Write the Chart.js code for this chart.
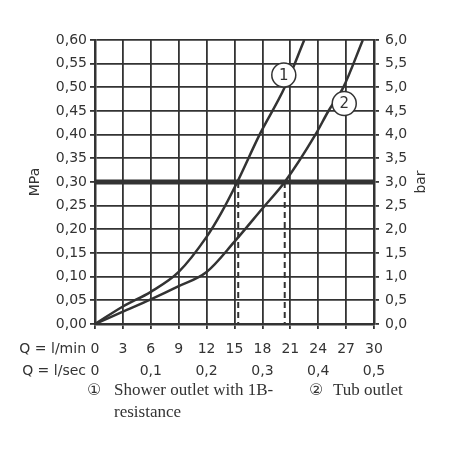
<!DOCTYPE html>
<html>
<head>
<meta charset="utf-8">
<script src="https://cdn.jsdelivr.net/npm/chart.js@4/dist/chart.umd.min.js"></script>
<style>
html,body{margin:0;padding:0;background:#fff;}
#wrap{width:450px;height:450px;position:relative;}
</style>
</head>
<body>
<div id="wrap"><canvas id="c" width="450" height="450"></canvas></div>
<script>
// ---- data ----
const curve1Q = [0, 3, 6, 9, 12, 13.5, 15.3, 17.7, 20.4, 22.5];          // l/min
const curve1P = [0, 0.037, 0.068, 0.11, 0.184, 0.232, 0.30, 0.40, 0.50, 0.60]; // MPa
const curve2Q = [0, 3, 6, 9, 12, 15, 18, 20.4, 23.7, 25.1, 26.7, 28.8];
const curve2P = [0, 0.026, 0.052, 0.08, 0.11, 0.174, 0.244, 0.30, 0.40, 0.45, 0.50, 0.60];
const refPressure = 0.30;
const refQ = [15.4, 20.4];                 // where curves cross 0.30 MPa
const markerQ = [20.3, 26.8];
const markerP = [0.526, 0.466];
const markerText = ['1', '2'];
const lminTicks = [0, 3, 6, 9, 12, 15, 18, 21, 24, 27, 30];
const lsecTicks = [0, 0.1, 0.2, 0.3, 0.4, 0.5];
const lsecLabels = ['0', '0,1', '0,2', '0,3', '0,4', '0,5'];
const mpaTicks = [0, 0.05, 0.1, 0.15, 0.2, 0.25, 0.3, 0.35, 0.4, 0.45, 0.5, 0.55, 0.6];
const mpaLabels = ['0,00','0,05','0,10','0,15','0,20','0,25','0,30','0,35','0,40','0,45','0,50','0,55','0,60'];
const barTicks = [0, 0.5, 1, 1.5, 2, 2.5, 3, 3.5, 4, 4.5, 5, 5.5, 6];
const barLabels = ['0,0','0,5','1,0','1,5','2,0','2,5','3,0','3,5','4,0','4,5','5,0','5,5','6,0'];
const rowPrefixes = ['Q = l/min', 'Q = l/sec'];
const legendItems = ['Shower outlet with 1B-', 'resistance', 'Tub outlet'];
const yTitles = ['MPa', 'bar'];

const INK = '#333333';
const SANS = "'DejaVu Sans', sans-serif";
const zip = (xs, ys) => xs.map((x, i) => ({x, y: ys[i]}));

const overlay = {
  id: 'overlay',
  afterDatasetsDraw(chart) {
    const ctx = chart.ctx;
    const meta = chart.getDatasetMeta(0);
    ctx.save();
    ctx.fillStyle = INK;
    ctx.font = "15px " + SANS;
    ctx.textAlign = 'center';
    ctx.textBaseline = 'middle';
    meta.data.forEach((pt, i) => ctx.fillText(markerText[i], pt.x, pt.y + 1));
    ctx.restore();
  },
  afterDraw(chart) {
    const ctx = chart.ctx;
    ctx.save();
    ctx.fillStyle = INK;
    ctx.font = "14px " + SANS;
    ctx.textAlign = 'center';
    ctx.textBaseline = 'middle';
    const midY = (chart.chartArea.top + chart.chartArea.bottom) / 2;
    [[35, yTitles[0]], [421, yTitles[1]]].forEach(([x, t]) => {
      ctx.save(); ctx.translate(x, midY); ctx.rotate(-Math.PI / 2);
      ctx.fillText(t, 0, 0); ctx.restore();
    });
    ctx.textAlign = 'right';
    ctx.fillText(rowPrefixes[0], 86, 349);
    ctx.fillText(rowPrefixes[1], 86, 371);
    ctx.textAlign = 'left';
    ctx.textBaseline = 'alphabetic';
    ctx.font = "16px " + SANS;
    ctx.fillText('\u2460', 87, 395);
    ctx.fillText('\u2461', 309, 395);
    ctx.font = "17px 'Liberation Serif', serif";
    ctx.fillText(legendItems[0], 114, 395);
    ctx.fillText(legendItems[1], 114, 417);
    ctx.fillText(legendItems[2], 333, 395);
    ctx.restore();
  }
};

const setTicks = (vals) => (s) => { s.ticks = vals.map(v => ({value: v})); };

new Chart(document.getElementById('c'), {
  type: 'line',
  data: {
    datasets: [
      {
        data: zip(markerQ, markerP), showLine: false,
        pointRadius: 12, pointHoverRadius: 12, pointBackgroundColor: '#fff',
        pointBorderColor: INK, pointBorderWidth: 1.5
      },
      { data: zip(curve1Q, curve1P), borderColor: INK, borderWidth: 2.5, pointRadius: 0,
        cubicInterpolationMode: 'monotone' },
      { data: zip(curve2Q, curve2P), borderColor: INK, borderWidth: 2.5, pointRadius: 0,
        cubicInterpolationMode: 'monotone' },
      { data: [{x: lminTicks[0], y: refPressure}, {x: lminTicks[lminTicks.length - 1], y: refPressure}],
        borderColor: INK, borderWidth: 5, pointRadius: 0 },
      { data: [{x: refQ[0], y: refPressure}, {x: refQ[0], y: 0}], borderColor: INK, borderWidth: 2,
        borderDash: [6, 4], pointRadius: 0 },
      { data: [{x: refQ[1], y: refPressure}, {x: refQ[1], y: 0}], borderColor: INK, borderWidth: 2,
        borderDash: [6, 4], pointRadius: 0 }
    ]
  },
  options: {
    responsive: false,
    animation: false,
    devicePixelRatio: 1,
    layout: { padding: { top: 40, left: 0, right: 0, bottom: 0 } },
    plugins: { legend: { display: false }, tooltip: { enabled: false } },
    scales: {
      x: {
        type: 'linear', position: 'bottom', min: 0, max: 30,
        afterBuildTicks: setTicks(lminTicks),
        afterFit: s => { s.height = 36; },
        grid: { color: INK, lineWidth: 1.8, tickLength: 5, drawTicks: true },
        border: { color: INK, width: 2.5 },
        ticks: { color: INK, font: { family: SANS, size: 14 }, padding: 12, maxRotation: 0,
                 autoSkip: false, callback: v => String(v) }
      },
      x2: {
        type: 'linear', position: 'bottom', min: 0, max: 0.5,
        afterBuildTicks: setTicks(lsecTicks),
        afterFit: s => { s.height = 90; },
        grid: { display: false, drawTicks: false, tickLength: 0 },
        border: { display: false },
        ticks: { color: INK, font: { family: SANS, size: 14 }, padding: 3, maxRotation: 0,
                 autoSkip: false, callback: v => lsecLabels[lsecTicks.indexOf(+v.toFixed(2))] }
      },
      y: {
        type: 'linear', position: 'left', min: 0, max: 0.6,
        afterBuildTicks: setTicks(mpaTicks),
        afterFit: s => { s.width = 95; },
        grid: { color: INK, lineWidth: 1.8, tickLength: 5 },
        border: { color: INK, width: 2.5 },
        ticks: { color: INK, font: { family: SANS, size: 14 }, padding: 3, autoSkip: false,
                 callback: v => mpaLabels[mpaTicks.indexOf(+v.toFixed(2))] }
      },
      y2: {
        type: 'linear', position: 'right', min: 0, max: 6,
        afterBuildTicks: setTicks(barTicks),
        afterFit: s => { s.width = 76; },
        grid: { color: INK, lineWidth: 1.8, tickLength: 5, drawOnChartArea: false },
        border: { color: INK, width: 2.5 },
        ticks: { color: INK, font: { family: SANS, size: 14 }, padding: 6, autoSkip: false,
                 callback: v => barLabels[barTicks.indexOf(+v.toFixed(1))] }
      }
    }
  },
  plugins: [overlay]
});
</script>
</body>
</html>
